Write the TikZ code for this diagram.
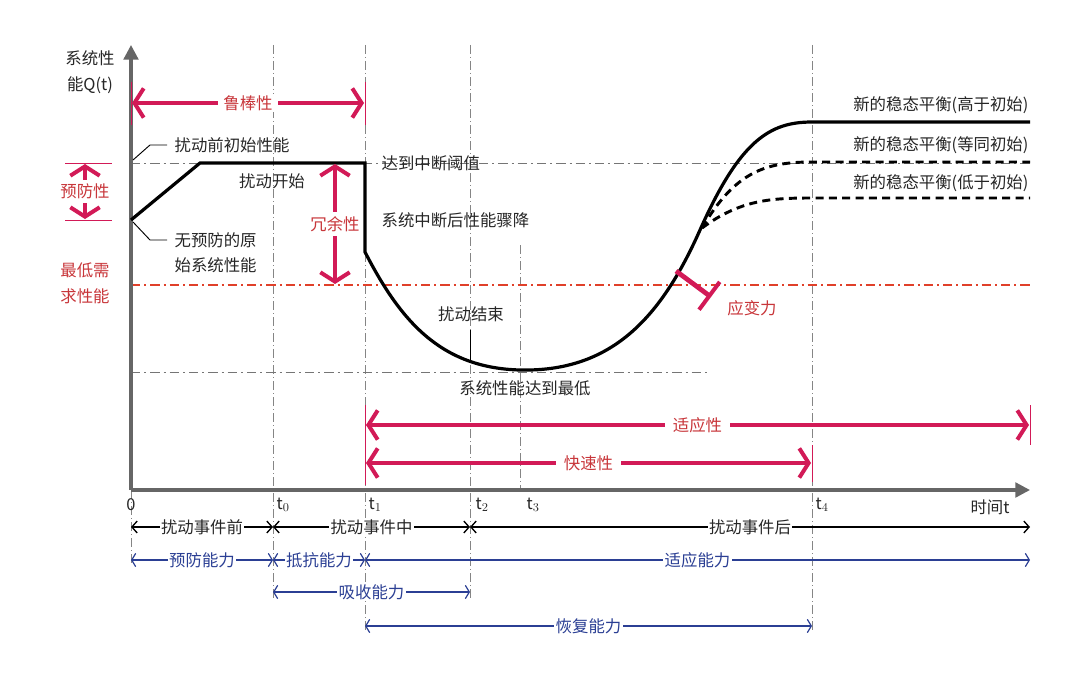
\documentclass[tikz,border=0pt]{standalone}
\usepackage{fontspec}
\setmainfont{Noto Sans CJK SC}
\usetikzlibrary{arrows.meta}
\definecolor{rk}{HTML}{D21A57}
\definecolor{rt}{HTML}{C8363A}
\definecolor{rg}{HTML}{E0402A}
\definecolor{bl}{HTML}{2B3F94}
\definecolor{gr}{HTML}{666666}
\tikzset{
 txt/.style={font=\fontsize{12.3pt}{14pt}\selectfont, text=black!85, inner sep=1pt},
 rtxt/.style={font=\fontsize{12.3pt}{14pt}\selectfont, text=rt, inner sep=1pt},
 btxt/.style={font=\fontsize{12.3pt}{14pt}\selectfont, text=bl, fill=white, inner sep=1pt},
 ktxt/.style={txt, fill=white},
 vguide/.style={gr!80, dash pattern=on 7pt off 2pt on 1pt off 2pt, line width=0.6pt},
 hguide/.style={gr!90, dash pattern=on 7pt off 3pt on 1.5pt off 3pt, line width=0.7pt},
 redguide/.style={rg, dash pattern=on 7pt off 3pt on 1.5pt off 3pt, line width=0.9pt},
 bigarr/.style={rk, line width=3.6pt, {Straight Barb[length=7pt,width=22pt,line width=3pt]}-{Straight Barb[length=7pt,width=22pt,line width=3pt]}},
 rthin/.style={rk, line width=0.6pt},
 karr/.style={black, line width=1pt, {Straight Barb[length=4pt,width=9pt]}-{Straight Barb[length=4pt,width=9pt]}},
 barr/.style={bl, line width=0.9pt, {Straight Barb[length=3pt,width=10pt]}-{Straight Barb[length=3pt,width=10pt]}},
 curve/.style={black, line width=2.4pt},
 dcurve/.style={black, line width=2.2pt, dash pattern=on 6pt off 4pt},
 lead/.style={black, line width=0.7pt},
}
\begin{document}
\begin{tikzpicture}[x=0.75pt,y=-0.75pt]
\useasboundingbox (0,0) rectangle (1080,674);
% vertical guides
\draw[vguide] (273,45) -- (273,600);
\draw[vguide] (365,45) -- (365,632);
\draw[vguide] (470,45) -- (470,600);
\draw[vguide] (520,245) -- (520,490);
\draw[vguide] (812,45) -- (812,632);
\draw[vguide] (131,490) -- (131,565);
% horizontal guides
\draw[hguide] (131,163) -- (1030,163);
\draw[hguide] (131,372) -- (710,372);
\draw[redguide] (131,285) -- (1030,285);
% axes
\coordinate (o) at (131,490);
\coordinate (ytop) at (131,45);
\coordinate (xend) at (1030,490);
\draw[gr, line width=2.4pt, -{Triangle[length=11pt,width=11pt]}] (o) -- (ytop);
\draw[gr, line width=2.4pt, -{Triangle[length=11pt,width=11pt]}] (o) -- (xend);
% curves
\draw[curve] (131,220) -- (200,163) -- (365,163) -- (365,252)
  .. controls (400,320) and (440,368) .. (520,370)
  .. controls (610,372) and (660,320) .. (700,230)
  .. controls (740,140) and (770,122) .. (812,122) -- (1030,122);
\draw[dcurve] (702,228) .. controls (735,172) and (765,162) .. (812,162) -- (1030,162);
\draw[dcurve] (702,228) .. controls (740,200) and (770,198) .. (812,198) -- (1030,198);
% leaders
\draw[lead] (133,160) -- (150,145) -- (167,145);
\draw[lead] (133,222) -- (150,240) -- (167,240);
\draw[lead] (470,330) -- (470,362);
% texts
\node[txt, anchor=west] (t1a) at (173,145) {扰动前初始性能};
\node[txt, anchor=west] (t1b) at (173,240) {无预防的原};
\node[txt, anchor=west] (t1c) at (173,265) {始系统性能};
\node[txt] (ks) at (272,181) {扰动开始};
\node[txt, anchor=west] (yz) at (380,163) {达到中断阈值};
\node[txt, anchor=west] (zd) at (380,220) {系统中断后性能骤降};
\node[txt] (js) at (471,314) {扰动结束};
\node[txt] (zd2) at (525,388) {系统性能达到最低};
\node[txt, anchor=east] (n1) at (1030,105) {新的稳态平衡(高于初始)};
\node[txt, anchor=east] (n2) at (1030,145) {新的稳态平衡(等同初始)};
\node[txt, anchor=east] (n3) at (1030,183) {新的稳态平衡(低于初始)};
\node[txt] (yl1) at (90,58) {系统性};
\node[txt] (yl2) at (90,85) {能Q(t)};
\node[rtxt] (zd1) at (85,270) {最低需};
\node[rtxt] (zd2b) at (85,296) {求性能};
\node[txt] (l0) at (131,505) {0};
\node[txt, anchor=west] (lt0) at (275,505) {t$_0$};
\node[txt, anchor=west] (lt1) at (367,505) {t$_1$};
\node[txt, anchor=west] (lt2) at (474,505) {t$_2$};
\node[txt, anchor=west] (lt3) at (525,505) {t$_3$};
\node[txt, anchor=west] (lt4) at (814,505) {t$_4$};
\node[txt] (sj) at (990,507) {时间t};
% red thin bars
\draw[rthin] (131,82) -- (131,125);
\draw[rthin] (365,82) -- (365,125);
\draw[rthin] (65,163) -- (112,163);
\draw[rthin] (65,220) -- (112,220);
\draw[rthin] (365,405) -- (365,485);
\draw[rthin] (812,445) -- (812,482);
\draw[rthin] (1030,405) -- (1030,445);
% red big arrows
\coordinate (r1) at (132,103); \coordinate (r2) at (364,103);
\draw[bigarr] (r1) -- node[rtxt, fill=white, inner xsep=4pt] (rb) {鲁棒性} (r2);
\coordinate (p1) at (85,164); \coordinate (p2) at (85,219);
\draw[bigarr] (p1) -- node[rtxt, fill=white, inner ysep=3pt] (yf) {预防性} (p2);
\coordinate (q1) at (335,164); \coordinate (q2) at (335,284);
\draw[bigarr] (q1) -- node[rtxt, fill=white, inner ysep=3pt] (ry) {冗余性} (q2);
\coordinate (s1) at (366,425); \coordinate (s2) at (1029,425);
\draw[bigarr] (s1) -- node[rtxt, fill=white, inner xsep=6pt] (sy) {适应性} (s2);
\coordinate (k1) at (366,463); \coordinate (k2) at (811,463);
\draw[bigarr] (k1) -- node[rtxt, fill=white, inner xsep=6pt] (ksx) {快速性} (k2);
\coordinate (v1) at (676,271); \coordinate (v2) at (711,297);
\draw[rk, line width=3.6pt, -{Bar[width=26pt,line width=3pt]}] (v1) -- (v2);
\node[rtxt] (ybl) at (752,308) {应变力};
% bottom rows
\coordinate (b0) at (131,527); \coordinate (b1) at (273,527); \coordinate (b2) at (470,527); \coordinate (b3) at (1030,527);
\draw[karr] (b0) -- node[ktxt] (e1) {扰动事件前} (b1);
\draw[karr] (b1) -- node[ktxt] (e2) {扰动事件中} (b2);
\draw[karr] (b2) -- node[ktxt, pos=0.5] (e3) {扰动事件后} (b3);
\coordinate (c0) at (131,560); \coordinate (c1) at (273,560); \coordinate (c2) at (365,560); \coordinate (c3) at (1030,560);
\draw[barr] (c0) -- node[btxt] (f1) {预防能力} (c1);
\draw[barr] (c1) -- node[btxt] (f2) {抵抗能力} (c2);
\draw[barr] (c2) -- node[btxt] (f3) {适应能力} (c3);
\coordinate (d0) at (273,592); \coordinate (d1) at (470,592);
\draw[barr] (d0) -- node[btxt] (g1) {吸收能力} (d1);
\coordinate (h0) at (365,626); \coordinate (h1) at (812,626);
\draw[barr] (h0) -- node[btxt] (g2) {恢复能力} (h1);
\end{tikzpicture}
\end{document}
